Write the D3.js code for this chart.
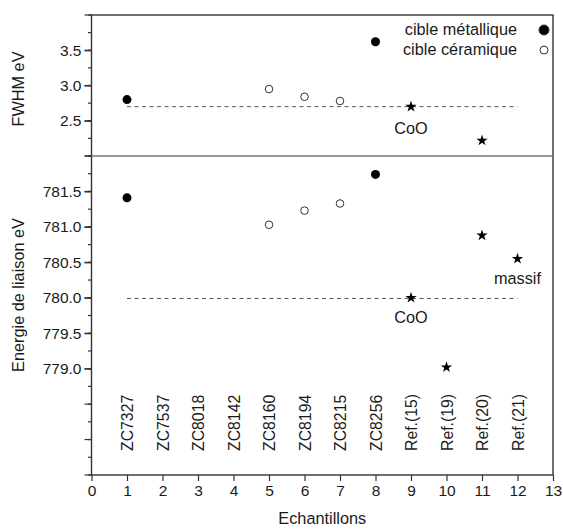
<!DOCTYPE html>
<html>
<head>
<script src="https://d3js.org/d3.v7.min.js"></script>
<style>
  body { margin: 0; background: #fff; font-family: "Liberation Sans", Arial, sans-serif; }
  svg { display: block; }
  .axis path, .axis line { stroke: #333; stroke-width: 1.2px; }
  .axis text { font-size: 15.5px; fill: #1a1a1a; font-family: "Liberation Sans", Arial, sans-serif; }
  .lbl { font-size: 16.3px; fill: #1a1a1a; }
</style>
</head>
<body>
<script>
  // sample positions and names
  var samples = [1, 2, 3, 4, 5, 6, 7, 8, 9, 10, 11, 12];
  var sampleNames = ["ZC7327", "ZC7537", "ZC8018", "ZC8142", "ZC8160", "ZC8194",
                     "ZC8215", "ZC8256", "Ref.(15)", "Ref.(19)", "Ref.(20)", "Ref.(21)"];

  // FWHM (top panel)
  var fwhmMetal = [[1, 2.80], [8, 3.62]];
  var fwhmCeram = [[5, 2.95], [6, 2.84], [7, 2.78]];
  var fwhmRef = [[9, 2.70], [11, 2.22]];
  var fwhmCoO = 2.70;

  // binding energy (bottom panel)
  var beMetal = [[1, 781.41], [8, 781.74]];
  var beCeram = [[5, 781.03], [6, 781.23], [7, 781.33]];
  var beRef = [[9, 780.00], [10, 779.02], [11, 780.88], [12, 780.55]];
  var beCoO = 779.99;

  var xTicks = d3.range(0, 14);
  var fwhmTicks = [2.5, 3.0, 3.5];
  var beTicks = [779.0, 779.5, 780.0, 780.5, 781.0, 781.5];

  var W = 563, H = 529;
  var pLeft = 91.5, pRight = 553, pTop = 15, pMid = 156, pBottom = 475;

  var svg = d3.select("body").append("svg").attr("width", W).attr("height", H);

  var x = d3.scaleLinear().domain([0, 13]).range([pLeft, pRight]);
  var yTop = d3.scaleLinear().domain([2.0, 4.0]).range([pMid, pTop]);
  var yBot = d3.scaleLinear().domain([777.5, 782.0]).range([pBottom, pMid]);

  // left ticks: minor every 0.25, major every 0.5
  function ticks(g, scale, step, len) {
    var d = scale.domain();
    var vals = d3.range(d[0], d[1] + 1e-6, step);
    g.append("g").selectAll("line").data(vals).enter().append("line")
      .attr("x1", pLeft - len).attr("x2", pLeft)
      .attr("y1", v => scale(v)).attr("y2", v => scale(v))
      .attr("stroke", "#333").attr("stroke-width", 1.2);
  }

  var ticksG = svg.append("g");
  ticks(ticksG, yTop, 0.25, 3.5);
  ticks(ticksG, yTop, 0.5, 7);
  ticks(ticksG, yBot, 0.25, 3.5);
  ticks(ticksG, yBot, 0.5, 7);

  svg.append("g").attr("class", "axis")
      .attr("transform", `translate(${pLeft},0)`)
      .call(d3.axisLeft(yTop).tickValues(fwhmTicks).tickSize(7).tickPadding(3).tickFormat(d3.format(".1f")))
      .call(g => g.select(".domain").remove());

  svg.append("g").attr("class", "axis")
      .attr("transform", `translate(${pLeft},0)`)
      .call(d3.axisLeft(yBot).tickValues(beTicks).tickSize(7).tickPadding(3).tickFormat(d3.format(".1f")))
      .call(g => g.select(".domain").remove());

  svg.append("g").attr("class", "axis")
      .attr("transform", `translate(0,${pBottom})`)
      .call(d3.axisBottom(x).tickValues(xTicks).tickSize(6).tickPadding(4).tickFormat(d3.format("d")))
      .call(g => g.select(".domain").remove());

  // frame
  svg.append("rect").attr("x", pLeft).attr("y", pTop)
      .attr("width", pRight - pLeft).attr("height", pBottom - pTop)
      .attr("fill", "none").attr("stroke", "#333").attr("stroke-width", 1.4);
  svg.append("line").attr("x1", pLeft).attr("x2", pRight)
      .attr("y1", yTop(2.0)).attr("y2", yTop(2.0))
      .attr("stroke", "#777").attr("stroke-width", 1.4);

  // dashed CoO reference lines
  svg.append("line").attr("x1", x(1)).attr("x2", x(12))
      .attr("y1", yTop(fwhmCoO)).attr("y2", yTop(fwhmCoO))
      .attr("stroke", "#555").attr("stroke-width", 1).attr("stroke-dasharray", "4,3.5");
  svg.append("line").attr("x1", x(1)).attr("x2", x(12))
      .attr("y1", yBot(beCoO)).attr("y2", yBot(beCoO))
      .attr("stroke", "#555").attr("stroke-width", 1).attr("stroke-dasharray", "4,3.5");

  var star = d3.symbol().type(d3.symbolStar).size(40);

  function points(y, metal, ceram, ref) {
    svg.append("g").selectAll("circle").data(metal).enter().append("circle")
      .attr("cx", d => x(d[0])).attr("cy", d => y(d[1])).attr("r", 4.5).attr("fill", "#000");
    svg.append("g").selectAll("circle").data(ceram).enter().append("circle")
      .attr("cx", d => x(d[0])).attr("cy", d => y(d[1])).attr("r", 3.8)
      .attr("fill", "#fff").attr("stroke", "#333").attr("stroke-width", 1);
    svg.append("g").selectAll("path").data(ref).enter().append("path")
      .attr("d", star).attr("fill", "#000")
      .attr("transform", d => `translate(${x(d[0])},${y(d[1])})`);
  }
  points(yTop, fwhmMetal, fwhmCeram, fwhmRef);
  points(yBot, beMetal, beCeram, beRef);

  // annotations
  svg.append("text").attr("class", "lbl").attr("x", x(9)).attr("y", yTop(fwhmCoO) + 27)
      .attr("text-anchor", "middle").text("CoO");
  svg.append("text").attr("class", "lbl").attr("x", x(9)).attr("y", yBot(beCoO) + 25)
      .attr("text-anchor", "middle").text("CoO");
  svg.append("text").attr("class", "lbl").attr("x", x(12)).attr("y", yBot(780.55) + 25)
      .attr("text-anchor", "middle").text("massif");

  // legend
  var legend = [["cible métallique", true], ["cible céramique", false]];
  legend.forEach(function(l, i) {
    var ly = 30 + i * 20;
    svg.append("text").attr("class", "lbl").attr("x", 517).attr("y", ly + 5)
        .attr("text-anchor", "end").text(l[0]);
    svg.append("circle").attr("cx", 544).attr("cy", ly).attr("r", l[1] ? 5 : 4)
        .attr("fill", l[1] ? "#000" : "#fff").attr("stroke", "#333").attr("stroke-width", 1);
  });

  // sample names, vertical
  svg.append("g").selectAll("text").data(samples).enter().append("text")
      .attr("class", "lbl")
      .attr("transform", d => `translate(${x(d) + 6},451) rotate(-90)`)
      .attr("text-anchor", "start")
      .style("font-size", "15.8px")
      .text((d, i) => sampleNames[i]);

  // axis titles
  svg.append("text").attr("class", "lbl")
      .attr("transform", `translate(${x(6.5)},524)`).attr("text-anchor", "middle").text("Echantillons");
  svg.append("text").attr("class", "lbl")
      .attr("transform", `translate(24,89) rotate(-90)`).attr("text-anchor", "middle").text("FWHM eV");
  svg.append("text").attr("class", "lbl")
      .attr("transform", `translate(24,295) rotate(-90)`).attr("text-anchor", "middle").text("Energie de liaison eV");
</script>
</body>
</html>
